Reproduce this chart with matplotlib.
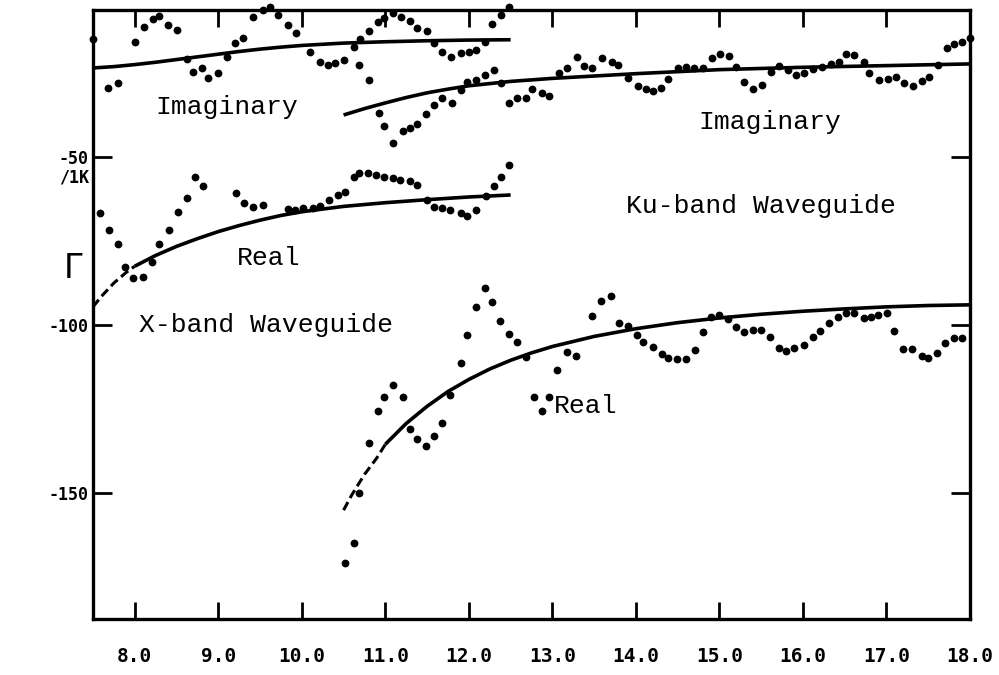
import matplotlib
matplotlib.use("Agg")
import matplotlib.pyplot as plt

# X-band waveguide, imaginary part (measured points)
x_imag_freq = [7.50, 7.68, 7.80, 8.00, 8.11, 8.22, 8.29, 8.40, 8.51, 8.63, 8.70, 8.81,
               8.88, 9.00, 9.11, 9.20, 9.30, 9.42, 9.53, 9.62, 9.71, 9.83, 9.93, 10.10,
               10.22, 10.31, 10.40, 10.51, 10.62, 10.70, 10.80, 10.91, 10.98, 11.09, 11.19, 11.30,
               11.38, 11.50, 11.58, 11.68, 11.79, 11.90, 12.00, 12.08, 12.19, 12.28, 12.38, 12.48]
x_imag_gamma = [-14.9, -29.5, -28.0, -15.8, -11.3, -8.9, -8.0, -10.7, -12.2, -20.8, -24.7, -23.5,
                -26.5, -25.0, -20.2, -16.1, -14.6, -8.3, -6.3, -5.4, -7.7, -10.7, -13.1, -18.8,
                -21.7, -22.6, -22.0, -21.1, -17.3, -14.9, -12.5, -9.8, -8.6, -7.1, -8.3, -9.5,
                -11.6, -12.5, -16.1, -18.8, -20.2, -19.0, -18.8, -18.2, -15.8, -10.4, -7.7, -5.4]
x_imag_fit_freq = [7.5, 7.75, 8.0, 8.25, 8.5, 8.75, 9.0, 9.25, 9.5, 9.75, 10.0, 10.5,
                   11.0, 11.5, 12.0, 12.5]
x_imag_fit = [-23.5, -23.1, -22.5, -21.8, -21.0, -20.2, -19.4, -18.6, -17.9, -17.3, -16.8, -16.1,
              -15.7, -15.4, -15.2, -15.1]

# X-band waveguide, real part
x_real_freq = [7.58, 7.69, 7.80, 7.88, 7.98, 8.10, 8.21, 8.29, 8.41, 8.52, 8.63, 8.72,
               8.82, 9.21, 9.31, 9.41, 9.53, 9.83, 9.92, 10.02, 10.13, 10.22, 10.32, 10.43,
               10.52, 10.62, 10.69, 10.79, 10.89, 10.98, 11.09, 11.18, 11.29, 11.38, 11.50, 11.58,
               11.68, 11.78, 11.90, 11.98, 12.08, 12.20, 12.30, 12.39, 12.48]
x_real_gamma = [-66.7, -71.7, -75.9, -82.7, -86.0, -85.7, -81.2, -75.9, -71.7, -66.4, -62.2, -56.0,
                -58.6, -60.7, -63.7, -64.9, -64.3, -65.5, -65.8, -65.2, -65.2, -64.6, -62.8, -61.3,
                -60.4, -56.0, -54.8, -54.8, -55.4, -56.0, -56.2, -56.8, -57.1, -58.3, -62.8, -64.9,
                -65.2, -65.8, -66.7, -67.6, -65.8, -61.6, -58.6, -56.0, -52.4]
x_real_fit_freq = [7.5, 7.6, 7.75, 7.9, 8.0, 8.25, 8.5, 8.75, 9.0, 9.25, 9.5, 9.75,
                   10.0, 10.5, 11.0, 11.5, 12.0, 12.5]
x_real_fit = [-94.6, -91.5, -87.5, -84.3, -82.5, -79.3, -76.6, -74.3, -72.2, -70.4, -68.8, -67.4,
              -66.3, -64.7, -63.6, -62.7, -61.9, -61.3]

# Ku-band waveguide, imaginary part
ku_imag_freq = [10.69, 10.80, 10.92, 10.98, 11.09, 11.21, 11.30, 11.38, 11.49, 11.58, 11.68, 11.80,
                11.90, 11.98, 12.08, 12.19, 12.30, 12.39, 12.48, 12.58, 12.69, 12.76, 12.88, 12.96,
                13.08, 13.18, 13.29, 13.38, 13.48, 13.60, 13.71, 13.78, 13.90, 14.02, 14.12, 14.20,
                14.30, 14.39, 14.50, 14.60, 14.69, 14.80, 14.91, 15.01, 15.11, 15.20, 15.29, 15.40,
                15.51, 15.62, 15.71, 15.82, 15.92, 16.01, 16.12, 16.23, 16.33, 16.43, 16.52, 16.61,
                16.73, 16.79, 16.91, 17.02, 17.12, 17.21, 17.32, 17.42, 17.51, 17.62, 17.73, 17.81,
                17.90, 18.00]
ku_imag_gamma = [-22.6, -27.1, -36.9, -40.8, -45.8, -42.3, -41.4, -40.2, -37.2, -34.5, -32.4, -33.9,
                 -30.1, -27.7, -27.1, -25.6, -24.1, -28.0, -33.9, -32.4, -32.4, -29.8, -31.0, -31.8,
                 -25.0, -23.5, -20.2, -22.9, -23.5, -20.5, -21.7, -22.6, -26.5, -28.9, -29.8, -30.4,
                 -29.5, -26.8, -23.5, -23.2, -23.5, -23.5, -20.5, -19.3, -19.9, -23.2, -27.7, -29.8,
                 -28.6, -24.7, -22.9, -24.1, -25.6, -25.0, -23.8, -23.2, -22.3, -21.7, -19.3, -19.6,
                 -21.7, -25.0, -27.1, -26.8, -26.2, -28.0, -28.9, -27.4, -26.2, -22.6, -17.6, -16.4,
                 -15.8, -14.6]
ku_imag_fit_freq = [10.5, 10.75, 11.0, 11.25, 11.5, 11.75, 12.0, 12.5, 13.0, 13.5, 14.0, 14.5,
                    15.0, 16.0, 17.0, 18.0]
ku_imag_fit = [-37.5, -35.6, -33.9, -32.3, -30.9, -29.8, -28.8, -27.5, -26.6, -25.9, -25.2, -24.6,
               -24.0, -23.3, -22.8, -22.3]

# Ku-band waveguide, real part
ku_real_freq = [10.52, 10.62, 10.69, 10.80, 10.91, 10.99, 11.09, 11.21, 11.30, 11.38, 11.49, 11.58,
                11.68, 11.78, 11.90, 11.98, 12.09, 12.19, 12.28, 12.37, 12.48, 12.58, 12.68, 12.78,
                12.87, 12.96, 13.06, 13.17, 13.28, 13.48, 13.58, 13.70, 13.80, 13.90, 14.01, 14.09,
                14.20, 14.31, 14.38, 14.49, 14.60, 14.71, 14.80, 14.90, 14.99, 15.10, 15.20, 15.29,
                15.40, 15.50, 15.61, 15.71, 15.80, 15.89, 16.01, 16.12, 16.21, 16.31, 16.42, 16.52,
                16.61, 16.73, 16.82, 16.90, 17.01, 17.09, 17.20, 17.31, 17.42, 17.50, 17.60, 17.70,
                17.81, 17.90]
ku_real_gamma = [-170.8, -164.9, -150.0, -135.1, -125.6, -121.4, -117.9, -121.4, -130.9, -133.9, -136.0, -133.0,
                 -129.2, -120.8, -111.3, -103.0, -94.6, -89.0, -93.2, -98.8, -102.7, -105.1, -109.5, -121.4,
                 -125.6, -121.4, -113.4, -108.0, -109.2, -97.3, -92.9, -91.4, -99.4, -100.3, -103.0, -105.1,
                 -106.5, -108.6, -109.8, -110.1, -110.1, -107.4, -102.1, -97.6, -97.0, -98.2, -100.6, -102.1,
                 -101.5, -101.5, -103.6, -106.8, -107.7, -106.8, -105.9, -103.6, -101.8, -99.4, -97.6, -96.4,
                 -96.4, -97.9, -97.6, -97.0, -96.4, -101.8, -107.1, -107.1, -109.2, -109.8, -108.3, -105.4,
                 -103.9, -103.9]
ku_real_fit_freq = [10.5, 10.6, 10.75, 10.9, 11.0, 11.25, 11.5, 11.75, 12.0, 12.25, 12.5, 12.75,
                    13.0, 13.5, 14.0, 14.5, 15.0, 15.5, 16.0, 16.5, 17.0, 17.5, 18.0]
ku_real_fit = [-155.1, -150.5, -144.5, -139.5, -135.5, -129.3, -124.2, -119.8, -116.2, -113.1, -110.5, -108.3,
               -106.4, -103.4, -101.1, -99.3, -97.9, -96.8, -95.9, -95.2, -94.6, -94.2, -94.0]

freq_ticks = [8.0, 9.0, 10.0, 11.0, 12.0, 13.0, 14.0, 15.0, 16.0, 17.0, 18.0]
gamma_ticks = [-50, -100, -150]

W, H = 999, 675
fig = plt.figure(figsize=(W / 100, H / 100), dpi=100)
fig.patch.set_facecolor("white")
ax = fig.add_axes([93 / W, 1 - 619 / H, (970 - 93) / W, (619 - 10) / H])

dot = dict(linestyle="none", marker="o", markersize=4.6, color="black", clip_on=False)
fit = dict(color="black", linewidth=2.6, solid_capstyle="butt", solid_joinstyle="round")
broken = dict(color="black", linewidth=2.2, linestyle=(0, (3, 1.5)))

ax.plot(x_imag_freq, x_imag_gamma, **dot)
ax.plot(x_real_freq, x_real_gamma, **dot)
ax.plot(ku_imag_freq, ku_imag_gamma, **dot)
ax.plot(ku_real_freq, ku_real_gamma, **dot)

ax.plot(x_imag_fit_freq, x_imag_fit, **fit)
ax.plot(ku_imag_fit_freq, ku_imag_fit, **fit)
# steep start of the real curves was drawn broken by the plotter
ax.plot(x_real_fit_freq[:5], x_real_fit[:5], **broken)
ax.plot(x_real_fit_freq[4:], x_real_fit[4:], **fit)
ax.plot(ku_real_fit_freq[:5], ku_real_fit[:5], **broken)
ax.plot(ku_real_fit_freq[4:], ku_real_fit[4:], **fit)

ax.set_xlim(7.5, 18.0)
ax.set_ylim(-187.5, -6.25)

ax.set_xticks(freq_ticks)
ax.set_xticklabels([f"{v:.1f}" for v in freq_ticks], family="DejaVu Sans Mono",
                   fontweight="bold", fontsize=14)
ax.set_yticks(gamma_ticks)
ax.set_yticklabels([str(v) for v in gamma_ticks], family="DejaVu Sans Mono",
                   fontweight="bold", fontsize=12)
ax.tick_params(axis="both", direction="in", top=True, right=True, width=2.0, color="black")
ax.tick_params(axis="x", length=12, pad=20)
ax.tick_params(axis="y", length=14, pad=3)

for s in ax.spines.values():
    s.set_linewidth(2.4)
    s.set_color("black")

ax.annotate("/1K", xy=(0, -50), xycoords=("axes fraction", "data"), xytext=(-3, -15),
            textcoords="offset points", ha="right", va="center", family="DejaVu Sans Mono",
            fontweight="bold", fontsize=12)

lbl = dict(family="Liberation Mono", fontsize=19, color="black", ha="center", va="center")
ax.text(9.1, -35.0, "Imaginary", **lbl)
ax.text(15.6, -39.5, "Imaginary", **lbl)
ax.text(15.5, -64.5, "Ku-band Waveguide", **lbl)
ax.text(9.6, -80.0, "Real", **lbl)
ax.text(8.05, -100.0, "X-band Waveguide", **dict(lbl, ha="left"))
ax.text(13.4, -124.0, "Real", **lbl)

fig.text(73 / W, 1 - 268 / H, "\u0393", fontsize=24, family="DejaVu Sans",
         ha="center", va="center")

fig.savefig("out.png", dpi=100, facecolor="white")
